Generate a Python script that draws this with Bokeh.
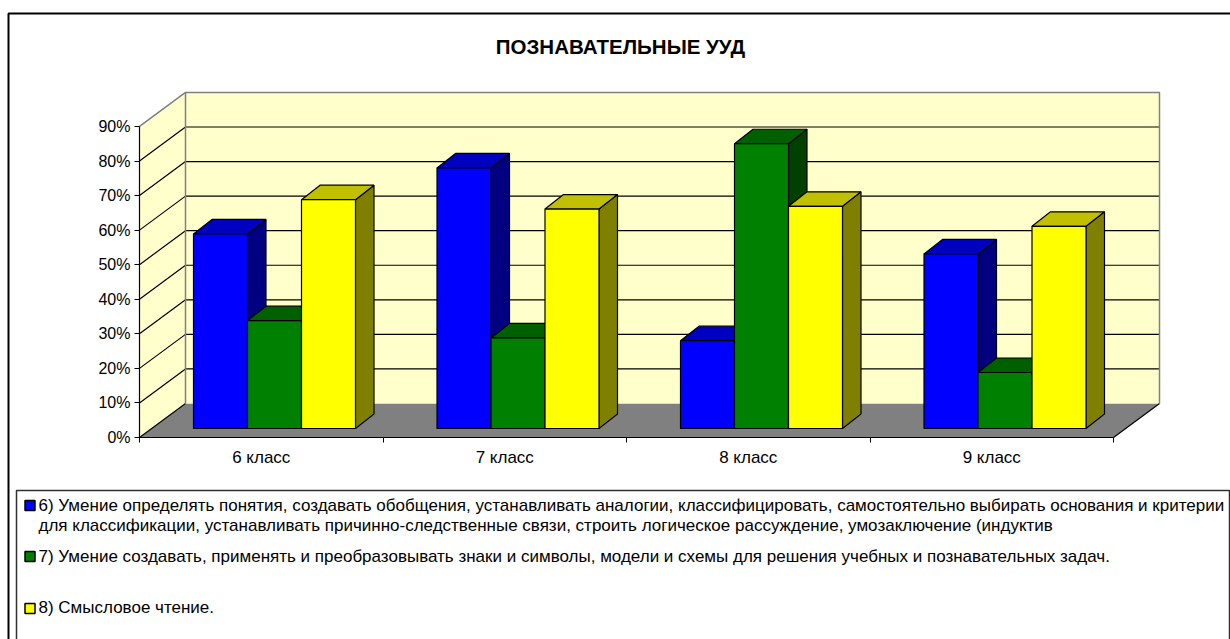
from bokeh.plotting import figure
from bokeh.models import LinearAxis, FixedTicker, Range1d
from bokeh.core.properties import value
from bokeh.embed import file_html
from bokeh.resources import INLINE

# ---- data ----
categories = ["6 класс", "7 класс", "8 класс", "9 класс"]
skill_6 = [56.3, 75.4, 25.4, 50.5]
skill_7 = [31.2, 26.2, 82.4, 16.2]
skill_8 = [66.2, 63.5, 64.3, 58.5]
percent_ticks = [0, 10, 20, 30, 40, 50, 60, 70, 80, 90]
title_text = "ПОЗНАВАТЕЛЬНЫЕ УУД"
legend_lines = [
    "6) Умение определять понятия, создавать обобщения, устанавливать аналогии, классифицировать, самостоятельно выбирать основания и критерии",
    "для классификации, устанавливать причинно-следственные связи, строить логическое рассуждение, умозаключение (индуктив",
    "7) Умение создавать, применять и преобразовывать знаки и символы, модели и схемы для решения учебных и познавательных задач.",
    "8) Смысловое чтение.",
]

# ---- layout (page pixels) ----
W, H = 1230, 639
PAGE_L, PAGE_T = 0, 0
X0_PX, Y0_PX = 139, 437              # origin of the axes on the page
PX_PER_CAT = 243.5
PX_PER_PCT = 3.456
DX = 46 / PX_PER_CAT                 # wall depth
DY = 34 / PX_PER_PCT
BAR_W = 54 / PX_PER_CAT
BAR_OFF_X = 54 / PX_PER_CAT          # first bar's left edge in a category
BASE_DY = 9 / PX_PER_PCT             # bar front base above the axis
BAR_DX = 18.5 / PX_PER_CAT           # bar depth
BAR_DY = 14.5 / PX_PER_PCT
YMAX = 90
NCAT = len(categories)


def fx(px):
    return (px - X0_PX) / PX_PER_CAT


def fy(py):
    return (Y0_PX - py) / PX_PER_PCT


p = figure(width=W, height=H, output_backend="svg", toolbar_location=None,
           x_axis_type=None, y_axis_type=None, min_border=0,
           x_range=Range1d(fx(PAGE_L), fx(PAGE_L + W)),
           y_range=Range1d(fy(PAGE_T + H), fy(PAGE_T)))
p.outline_line_color = None
p.grid.visible = False
p.background_fill_color = "white"
p.border_fill_color = "white"

WALL = "#FFFFCC"
EDGE = "#808080"

# walls and floor
p.patch([0, DX, NCAT + DX, NCAT], [0, DY, DY, 0], fill_color="#808080", line_color=None)
p.patch([0, DX, DX, 0], [0, DY, YMAX + DY, YMAX], fill_color=WALL, line_color=None)
p.patch([DX, NCAT + DX, NCAT + DX, DX], [DY, DY, YMAX + DY, YMAX + DY], fill_color=WALL, line_color=None)

# gridlines
for v in percent_ticks[1:-1]:
    p.line([0, DX, NCAT + DX], [v, v + DY, v + DY], line_color="black", line_width=1.2)
p.line([0, DX], [0, DY], line_color="black", line_width=1.2)
p.line([NCAT, NCAT + DX], [0, DY], line_color="black", line_width=1.2)
p.line([0, DX, NCAT + DX, NCAT + DX], [YMAX, YMAX + DY, YMAX + DY, DY], line_color=EDGE, line_width=1.5)
p.line([DX, DX], [DY, YMAX + DY], line_color=EDGE, line_width=1.5)

# bars
series = [
    (skill_6, "#0000FF", "#0000C0", "#000080"),
    (skill_7, "#008000", "#006000", "#004000"),
    (skill_8, "#FFFF00", "#C0C000", "#808000"),
]
for c in range(NCAT):
    for s, (vals, front, top, side) in enumerate(series):
        x0 = c + BAR_OFF_X + s * BAR_W
        x1 = x0 + BAR_W
        y0 = BASE_DY
        y1 = BASE_DY + vals[c]
        p.patch([x1, x1 + BAR_DX, x1 + BAR_DX, x1], [y0, y0 + BAR_DY, y1 + BAR_DY, y1],
                fill_color=side, line_color="black", line_width=1.2)
        p.patch([x0, x0 + BAR_DX, x1 + BAR_DX, x1], [y1, y1 + BAR_DY, y1 + BAR_DY, y1],
                fill_color=top, line_color="black", line_width=1.2)
        p.quad(left=x0, right=x1, bottom=y0, top=y1, fill_color=front, line_color="black", line_width=1.2)

# axes
yaxis = LinearAxis(fixed_location=0, bounds=(0, YMAX),
                   ticker=FixedTicker(ticks=percent_ticks),
                   major_label_overrides={v: f"{v}%" for v in percent_ticks})
yaxis.axis_line_color = "black"
yaxis.axis_line_width = 1.2
yaxis.major_tick_line_color = "black"
yaxis.major_tick_in = 0
yaxis.major_tick_out = 5
yaxis.minor_tick_line_color = None
yaxis.major_label_standoff = 4
yaxis.major_label_text_font = "Liberation Sans"
yaxis.major_label_text_font_size = "16px"
yaxis.major_label_text_color = "black"
p.add_layout(yaxis, "left")

centers = [i + 0.5 for i in range(NCAT)]
xaxis = LinearAxis(fixed_location=0, bounds=(0, NCAT),
                   ticker=FixedTicker(ticks=centers, minor_ticks=list(range(NCAT + 1))),
                   major_label_overrides={c: n for c, n in zip(centers, categories)})
xaxis.axis_line_color = "black"
xaxis.axis_line_width = 1.2
xaxis.major_tick_line_color = None
xaxis.minor_tick_line_color = "black"
xaxis.minor_tick_in = 0
xaxis.minor_tick_out = 5
xaxis.major_label_standoff = 4
xaxis.major_label_text_font = "Liberation Sans"
xaxis.major_label_text_font_size = "17px"
xaxis.major_label_text_color = "black"
p.add_layout(xaxis, "below")

# chart frame
p.line([fx(8), fx(8), fx(1231)], [fy(640), fy(13), fy(13)], line_color="black", line_width=2)

# title
p.text([fx(620)], [fy(46)], text=[title_text], text_align="center", text_baseline="middle",
       text_font=value("Liberation Sans"), text_font_style="bold", text_font_size="20.5px", text_color="black")

# legend box
p.line([fx(16), fx(16), fx(1229), fx(1229)], [fy(640), fy(490), fy(490), fy(640)],
       line_color="#303030", line_width=1.5)
swatches = [(505, "#0000FF"), (556, "#008000"), (608, "#FFFF00")]
for py, col in swatches:
    p.quad(left=fx(24.5), right=fx(34.5), bottom=fy(py + 5), top=fy(py - 5), fill_color=col,
           line_color="black", line_width=1.5)
for txt, (tx, ty) in zip(legend_lines, [(38, 505), (38, 525), (38, 556), (38, 607)]):
    p.text([fx(tx)], [fy(ty)], text=[txt], text_align="left", text_baseline="middle",
           text_font=value("Liberation Sans"), text_font_size="17px", text_color="black")

open("out.html", "w").write(file_html(p, INLINE))
